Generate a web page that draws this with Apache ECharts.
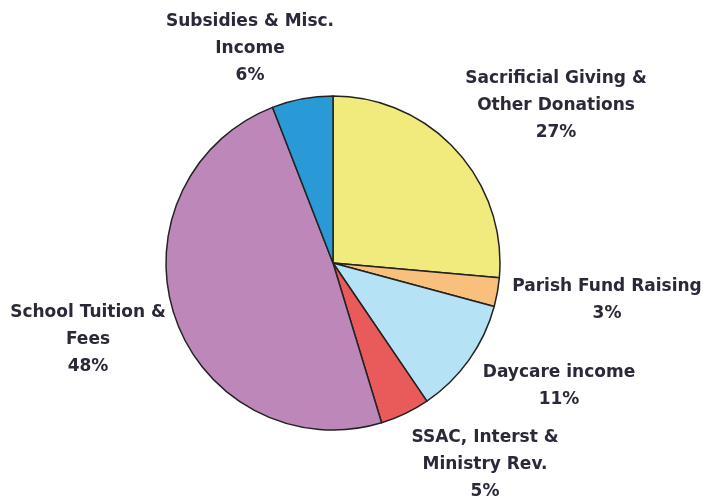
<!DOCTYPE html>
<html>
<head>
<meta charset="utf-8">
<script src="https://cdn.jsdelivr.net/npm/echarts@6/dist/echarts.min.js"></script>
<style>html,body{margin:0;padding:0;background:#fff}#c{width:708px;height:498px}</style>
</head>
<body>
<div id="c"></div>
<script>
var categories = [
  "Sacrificial Giving &\nOther Donations",
  "Parish Fund Raising",
  "Daycare income",
  "SSAC, Interst &\nMinistry Rev.",
  "School Tuition &\nFees",
  "Subsidies & Misc.\nIncome"
];
var values = [26.4, 2.8, 11.3, 4.8, 48.8, 5.9];
var displayPercents = [27, 3, 11, 5, 48, 6];
var colors = ["#F0EB7C", "#F8C07C", "#B5E2F4", "#E95A5B", "#BD87BA", "#2A9AD7"];
var labelPos = [[556,106],[607,300],[559,386],[485,465],[88,340],[250,49]];

var chart = echarts.init(document.getElementById('c'), null, {renderer:'canvas'});
chart.setOption({
  animation: false,
  backgroundColor: '#fff',
  series: [{
    type: 'pie',
    center: [333, 263],
    radius: [0, 167],
    startAngle: 90,
    clockwise: true,
    data: categories.map(function(n,i){return {name:n, value:values[i], itemStyle:{color:colors[i]}};}),
    itemStyle: {borderColor:'#222', borderWidth:1.5},
    label: {
      show: true,
      position: 'outside',
      formatter: function(p){ return p.name + '\n' + displayPercents[p.dataIndex] + '%'; },
      fontFamily: "'DejaVu Sans', Verdana, sans-serif",
      fontWeight: 'bold',
      fontSize: 17,
      lineHeight: 27,
      color: '#2b2838',
      align: 'center',
      width: 300,
      overflow: 'none'
    },
    labelLine: {show:false},
    labelLayout: function(p){
      var pos = labelPos[p.dataIndex];
      return {x: pos[0], y: pos[1], align:'center', verticalAlign:'middle'};
    },
    emphasis: {disabled:true}
  }]
});
</script>
</body>
</html>
